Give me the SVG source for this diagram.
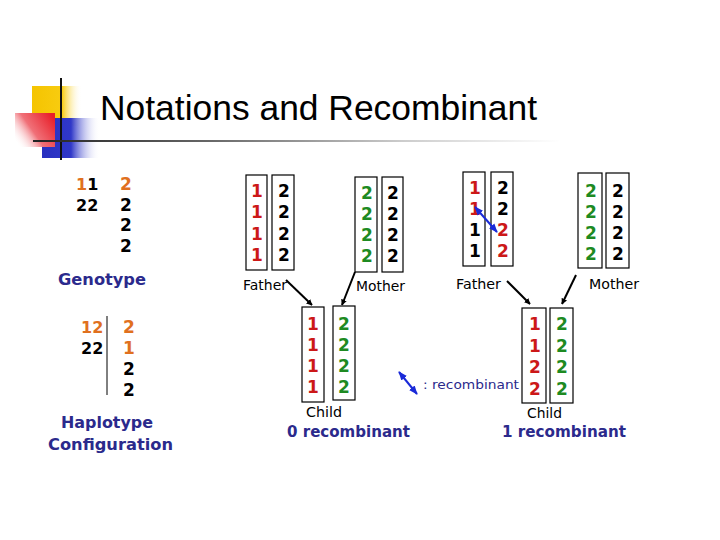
<svg xmlns="http://www.w3.org/2000/svg" width="720" height="540" viewBox="0 0 720 540">
<defs>
<linearGradient id="gy" x1="0" y1="0" x2="1" y2="0"><stop offset="0" stop-color="#f5c400"/><stop offset="0.6" stop-color="#f8cc10"/><stop offset="1" stop-color="#fff" stop-opacity="0"/></linearGradient>
<linearGradient id="gr" x1="1" y1="0.2" x2="0" y2="0.8"><stop offset="0" stop-color="#e8202a"/><stop offset="0.55" stop-color="#f07078"/><stop offset="1" stop-color="#fff" stop-opacity="0.1"/></linearGradient>
<linearGradient id="gb" x1="0" y1="0" x2="1" y2="0"><stop offset="0" stop-color="#2830c0"/><stop offset="0.5" stop-color="#3038c8"/><stop offset="1" stop-color="#fff" stop-opacity="0"/></linearGradient>
<linearGradient id="gl" gradientUnits="userSpaceOnUse" x1="33" y1="0" x2="560" y2="0"><stop offset="0" stop-color="#222"/><stop offset="0.33" stop-color="#666"/><stop offset="0.7" stop-color="#ccc"/><stop offset="1" stop-color="#fff"/></linearGradient>
<marker id="ah" viewBox="0 0 10 10" refX="9" refY="5" markerWidth="6" markerHeight="6" orient="auto-start-reverse" markerUnits="userSpaceOnUse"><path d="M0,0 L10,5 L0,10 z" fill="#000"/></marker>
<marker id="bh" viewBox="0 0 10 10" refX="9" refY="5" markerWidth="9" markerHeight="9" orient="auto-start-reverse" markerUnits="userSpaceOnUse"><path d="M0,1 L10,5 L0,9 z" fill="#1a2ad8"/></marker>
</defs>
<style>
.n{font-family:"DejaVu Sans",Verdana,sans-serif;font-weight:bold;font-size:17px;text-anchor:middle}
.nl{font-family:"DejaVu Sans",Verdana,sans-serif;font-weight:bold;font-size:16px}
.o{fill:#e0701e}.r{fill:#cc1818}.g{fill:#1e8a22}.k{fill:#000}
.lab{font-family:"DejaVu Sans",Tahoma,sans-serif;font-size:14px;fill:#000}
.bl{font-family:"DejaVu Sans",Verdana,sans-serif;font-weight:bold;font-size:16px;fill:#2b2a8c}
.box{fill:none;stroke:#000;stroke-width:1.2}
.arr{stroke:#000;stroke-width:2;fill:none}
.barr{stroke:#1a2ad8;stroke-width:2;fill:none}
</style>
<g id="logo">
<rect x="32" y="86" width="50" height="40" fill="url(#gy)"/>
<rect x="42" y="118" width="58" height="40" fill="url(#gb)"/>
<rect x="15" y="113" width="40" height="34" fill="url(#gr)"/>
<line x1="61" y1="78" x2="61" y2="160" stroke="#111" stroke-width="2"/>
<line x1="33" y1="141" x2="560" y2="141" stroke="url(#gl)" stroke-width="2"/>
</g>
<g id="title"><text x="100" y="120" font-family="Liberation Sans,Arial,sans-serif" font-size="35" fill="#000" textLength="437" lengthAdjust="spacingAndGlyphs">Notations and Recombinant</text></g>
<g id="genotype">
<text class="nl" x="76" y="190"><tspan class="o">1</tspan><tspan class="k">1</tspan></text>
<text class="nl k" x="76" y="211">22</text>
<text class="n o" x="126" y="190">2</text>
<text class="n k" x="126" y="211">2</text>
<text class="n k" x="126" y="231">2</text>
<text class="n k" x="126" y="252">2</text>
<text class="bl" x="58" y="285" textLength="88" lengthAdjust="spacingAndGlyphs">Genotype</text>
</g>
<g id="haplotype">
<text class="nl o" x="81" y="333">12</text>
<text class="nl k" x="81" y="354">22</text>
<line x1="107" y1="316" x2="107" y2="395" stroke="#000" stroke-width="1"/>
<text class="n o" x="129" y="333">2</text>
<text class="n o" x="129" y="354">1</text>
<text class="n k" x="129" y="375">2</text>
<text class="n k" x="129" y="396">2</text>
<text class="bl" x="61" y="428" textLength="92" lengthAdjust="spacingAndGlyphs">Haplotype</text>
<text class="bl" x="48" y="450" textLength="125" lengthAdjust="spacingAndGlyphs">Configuration</text>
</g>
<g id="father1">
<rect class="box" x="246" y="175" width="21" height="95"/>
<rect class="box" x="272" y="175" width="22" height="95"/>
<text class="n r" x="257" y="197">1</text><text class="n r" x="257" y="218">1</text><text class="n r" x="257" y="240">1</text><text class="n r" x="257" y="261">1</text>
<text class="n k" x="284" y="197">2</text><text class="n k" x="284" y="218">2</text><text class="n k" x="284" y="240">2</text><text class="n k" x="284" y="261">2</text>
<text class="lab" x="243" y="290" textLength="44" lengthAdjust="spacingAndGlyphs">Father</text>
</g>
<g id="mother1">
<rect class="box" x="355" y="177" width="22" height="95"/>
<rect class="box" x="382" y="177" width="21" height="95"/>
<text class="n g" x="367" y="199">2</text><text class="n g" x="367" y="220">2</text><text class="n g" x="367" y="241">2</text><text class="n g" x="367" y="262">2</text>
<text class="n k" x="393" y="199">2</text><text class="n k" x="393" y="220">2</text><text class="n k" x="393" y="241">2</text><text class="n k" x="393" y="262">2</text>
<text class="lab" x="356" y="291" textLength="49" lengthAdjust="spacingAndGlyphs">Mother</text>
</g>
<g id="child1">
<rect class="box" x="302" y="307" width="22" height="95"/>
<rect class="box" x="333" y="306" width="22" height="94"/>
<text class="n r" x="313" y="330">1</text><text class="n r" x="313" y="351">1</text><text class="n r" x="313" y="372">1</text><text class="n r" x="313" y="393">1</text>
<text class="n g" x="344" y="330">2</text><text class="n g" x="344" y="351">2</text><text class="n g" x="344" y="372">2</text><text class="n g" x="344" y="393">2</text>
<text class="lab" x="306" y="417" textLength="36" lengthAdjust="spacingAndGlyphs">Child</text>
<text class="bl" x="287" y="437" textLength="123" lengthAdjust="spacingAndGlyphs">0 recombinant</text>
</g>
<g id="legend">
<text x="423" y="389" font-family="DejaVu Sans,Tahoma,sans-serif" font-size="13" fill="#2b2a8c" textLength="96" lengthAdjust="spacingAndGlyphs">: recombinant</text>
</g>
<g id="father2">
<rect class="box" x="463" y="172" width="22" height="94"/>
<rect class="box" x="491" y="172" width="22" height="94"/>
<text class="n r" x="475" y="194">1</text><text class="n r" x="475" y="215">1</text><text class="n k" x="475" y="236">1</text><text class="n k" x="475" y="257">1</text>
<text class="n k" x="503" y="194">2</text><text class="n k" x="503" y="215">2</text><text class="n r" x="503" y="236">2</text><text class="n r" x="503" y="257">2</text>
<text class="lab" x="456" y="289" textLength="45" lengthAdjust="spacingAndGlyphs">Father</text>
</g>
<g id="mother2">
<rect class="box" x="578" y="173" width="24" height="95"/>
<rect class="box" x="606" y="173" width="23" height="95"/>
<text class="n g" x="591" y="197">2</text><text class="n g" x="591" y="218">2</text><text class="n g" x="591" y="239">2</text><text class="n g" x="591" y="260">2</text>
<text class="n k" x="618" y="197">2</text><text class="n k" x="618" y="218">2</text><text class="n k" x="618" y="239">2</text><text class="n k" x="618" y="260">2</text>
<text class="lab" x="589" y="289" textLength="50" lengthAdjust="spacingAndGlyphs">Mother</text>
</g>
<g id="child2">
<rect class="box" x="522" y="308" width="24" height="95"/>
<rect class="box" x="550" y="308" width="23" height="95"/>
<text class="n r" x="535" y="330">1</text><text class="n r" x="535" y="352">1</text><text class="n r" x="535" y="373">2</text><text class="n r" x="535" y="395">2</text>
<text class="n g" x="562" y="330">2</text><text class="n g" x="562" y="352">2</text><text class="n g" x="562" y="373">2</text><text class="n g" x="562" y="395">2</text>
<text class="lab" x="527" y="418" textLength="35" lengthAdjust="spacingAndGlyphs">Child</text>
<text class="bl" x="502" y="437" textLength="124" lengthAdjust="spacingAndGlyphs">1 recombinant</text>
</g>
<g id="connectors">
<line class="arr" x1="286" y1="280" x2="312" y2="305" marker-end="url(#ah)"/>
<line class="arr" x1="355" y1="272" x2="342" y2="305" marker-end="url(#ah)"/>
<line class="arr" x1="507" y1="281" x2="530" y2="304" marker-end="url(#ah)"/>
<line class="arr" x1="576" y1="275" x2="562" y2="304" marker-end="url(#ah)"/>
<line class="barr" x1="475" y1="207" x2="497" y2="232" marker-start="url(#bh)" marker-end="url(#bh)"/>
<line class="barr" x1="399" y1="372" x2="417" y2="394" marker-start="url(#bh)" marker-end="url(#bh)"/>
</g>
</svg>
